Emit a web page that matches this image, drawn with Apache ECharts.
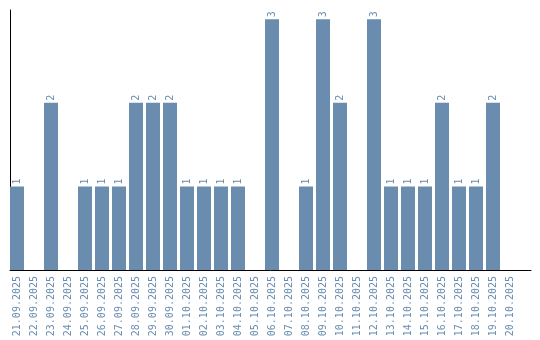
<!DOCTYPE html>
<html><head><meta charset="utf-8">
<script src="https://cdn.jsdelivr.net/npm/echarts@6/dist/echarts.min.js"></script>
<style>html,body{margin:0;padding:0;background:#fff}#c{width:540px;height:340px}</style>
</head><body><div id="c"></div>
<script>
const categories = ['21.09.2025','22.09.2025','23.09.2025','24.09.2025','25.09.2025','26.09.2025','27.09.2025','28.09.2025','29.09.2025','30.09.2025','01.10.2025','02.10.2025','03.10.2025','04.10.2025','05.10.2025','06.10.2025','07.10.2025','08.10.2025','09.10.2025','10.10.2025','11.10.2025','12.10.2025','13.10.2025','14.10.2025','15.10.2025','16.10.2025','17.10.2025','18.10.2025','19.10.2025','20.10.2025'];
const values = [1,0,2,0,1,1,1,2,2,2,1,1,1,1,0,3,0,1,3,2,0,3,1,1,1,2,1,1,2,0];
const color = '#6a8caf';
const font = 'DejaVu Sans Mono';
const chart = echarts.init(document.getElementById('c'));
chart.setOption({
  animation: false,
  grid: [
    {left: 8.5, top: 10, width: 510, height: 260},
    {left: 10, top: 10, width: 521, height: 260}
  ],
  xAxis: [
    {type: 'category', data: categories, gridIndex: 0,
     axisLine: {show: false}, axisTick: {show: false},
     axisLabel: {rotate: 90, interval: 0, color: color, fontFamily: font, fontSize: 10, margin: 6}},
    {type: 'value', gridIndex: 1, min: 0, max: 1,
     axisLine: {show: true, onZero: false, lineStyle: {color: '#000', width: 1}},
     axisTick: {show: false}, axisLabel: {show: false}, splitLine: {show: false}}
  ],
  yAxis: [
    {type: 'value', gridIndex: 0, min: 0, max: 3.11,
     axisLine: {show: false}, axisTick: {show: false}, axisLabel: {show: false}, splitLine: {show: false}},
    {type: 'value', gridIndex: 1, min: 0, max: 1,
     axisLine: {show: true, onZero: false, lineStyle: {color: '#000', width: 1}},
     axisTick: {show: false}, axisLabel: {show: false}, splitLine: {show: false}}
  ],
  series: [{
    type: 'bar', xAxisIndex: 0, yAxisIndex: 0, data: values, barWidth: 14,
    itemStyle: {color: color},
    label: {show: true, position: 'top', rotate: 90, align: 'left', verticalAlign: 'middle', distance: 2,
      color: color, fontFamily: font, fontSize: 10,
      formatter: p => p.value > 0 ? String(p.value) : ''}
  }]
});
</script></body></html>
